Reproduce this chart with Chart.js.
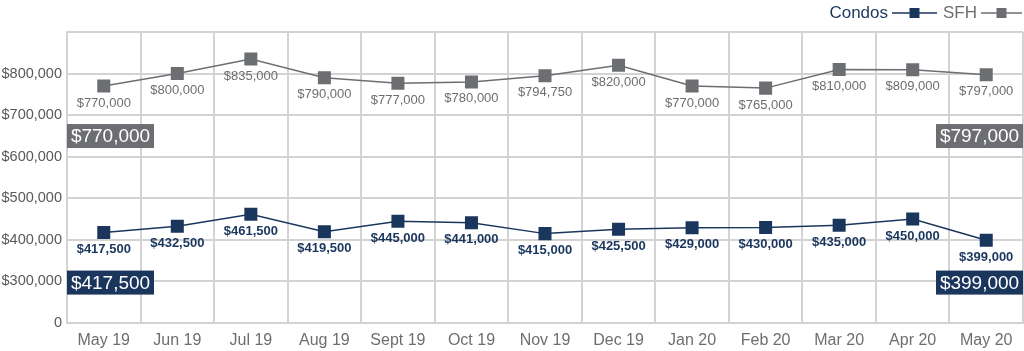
<!DOCTYPE html>
<html>
<head>
<meta charset="utf-8">
<script src="https://cdn.jsdelivr.net/npm/chart.js@4.4.1/dist/chart.umd.min.js"></script>
<style>
  html, body { margin: 0; padding: 0; background: #fff; overflow: hidden; }
  #wrap { width: 1024px; height: 351px; position: relative; }
</style>
</head>
<body>
<div id="wrap"><canvas id="chart"></canvas></div>
<script>
const months = ['May 19', 'Jun 19', 'Jul 19', 'Aug 19', 'Sept 19', 'Oct 19', 'Nov 19',
  'Dec 19', 'Jan 20', 'Feb 20', 'Mar 20', 'Apr 20', 'May 20'];
const condos = [417500, 432500, 461500, 419500, 445000, 441000, 415000,
  425500, 429000, 430000, 435000, 450000, 399000];
const sfh = [770000, 800000, 835000, 790000, 777000, 780000, 794750,
  820000, 770000, 765000, 810000, 809000, 797000];
const yTicks = [200000, 300000, 400000, 500000, 600000, 700000, 800000, 900000];
const yTickLabels = ['0', '$300,000', '$400,000', '$500,000', '$600,000', '$700,000', '$800,000', ''];

const NAVY = '#1b365d';
const GRAY = '#6d6e71';
const FONT = '"Liberation Sans", Arial, sans-serif';
const money = (v) => '$' + v.toLocaleString('en-US');

const labelsPlugin = {
  id: 'valueLabels',
  afterDatasetsDraw(chart) {
    const { ctx, chartArea } = chart;
    ctx.save();
    chart.data.datasets.forEach((ds, i) => {
      const meta = chart.getDatasetMeta(i);
      ctx.fillStyle = ds.borderColor;
      ctx.font = (i === 0 ? '600 ' : '') + '13px ' + FONT;
      ctx.textAlign = 'center';
      ctx.textBaseline = 'middle';
      meta.data.forEach((pt, j) => {
        ctx.fillText(money(ds.data[j]), pt.x, pt.y + 17);
      });

      // first / last value boxes
      const first = meta.data[0];
      const boxY = first.y + 50;
      const h = 24, w = 87;
      ctx.font = '19px ' + FONT;
      [[chartArea.left, ds.data[0]], [chartArea.right - w, ds.data[ds.data.length - 1]]].forEach(([bx, v]) => {
        ctx.fillStyle = ds.borderColor;
        ctx.fillRect(bx, boxY - h / 2, w, h);
        ctx.fillStyle = '#fff';
        ctx.fillText(money(v), bx + w / 2, boxY + 1);
      });
    });

    // legend
    const y = 13;
    ctx.textAlign = 'right';
    ctx.font = '17px ' + FONT;
    const items = [['Condos', NAVY, 888, 892, 937], ['SFH', GRAY, 977, 981, 1022]];
    items.forEach(([text, color, tx, x0, x1]) => {
      ctx.fillStyle = color;
      ctx.fillText(text, tx, y);
      ctx.strokeStyle = color;
      ctx.lineWidth = 1.5;
      ctx.beginPath();
      ctx.moveTo(x0, y);
      ctx.lineTo(x1, y);
      ctx.stroke();
      const cx = (x0 + x1) / 2;
      ctx.fillRect(cx - 5, y - 5, 10, 10);
    });
    ctx.restore();
  },
};

new Chart(document.getElementById('chart').getContext('2d'), {
  type: 'line',
  data: {
    labels: months,
    datasets: [
      {
        label: 'Condos',
        data: condos,
        borderColor: NAVY,
        backgroundColor: NAVY,
        borderWidth: 1.5,
        pointStyle: 'rect',
        pointRadius: 9.2,
        pointBorderWidth: 0,
        tension: 0,
      },
      {
        label: 'SFH',
        data: sfh,
        borderColor: GRAY,
        backgroundColor: GRAY,
        borderWidth: 1.5,
        pointStyle: 'rect',
        pointRadius: 9.2,
        pointBorderWidth: 0,
        tension: 0,
      },
    ],
  },
  options: {
    responsive: true,
    maintainAspectRatio: false,
    animation: false,
    layout: { autoPadding: false, padding: { top: 32, right: 1, left: 0, bottom: 0 } },
    scales: {
      x: {
        offset: true,
        grid: { color: '#d3d3d3', lineWidth: 2, offset: true, drawTicks: false },
        border: { color: '#d3d3d3', width: 2 },
        ticks: { color: GRAY, font: { family: FONT, size: 16 }, padding: 8, maxRotation: 0, autoSkip: false },
        afterFit(scale) {
          scale.height = 28;
          scale.paddingLeft = 0;
          scale.paddingRight = 0;
        },
      },
      y: {
        min: 200000,
        max: 900000,
        grid: { color: '#d3d3d3', lineWidth: 2, drawTicks: false },
        border: { color: '#d3d3d3', width: 2 },
        afterBuildTicks(scale) { scale.ticks = yTicks.map((value) => ({ value })); },
        ticks: {
          color: '#58595b',
          font: { family: FONT, size: 14.5 },
          padding: 5,
          callback: (value) => yTickLabels[yTicks.indexOf(value)] ?? '',
        },
        afterFit(scale) { scale.width = 67; },
      },
    },
    plugins: {
      legend: { display: false },
      tooltip: { enabled: false },
    },
  },
  plugins: [labelsPlugin],
});
</script>
</body>
</html>
